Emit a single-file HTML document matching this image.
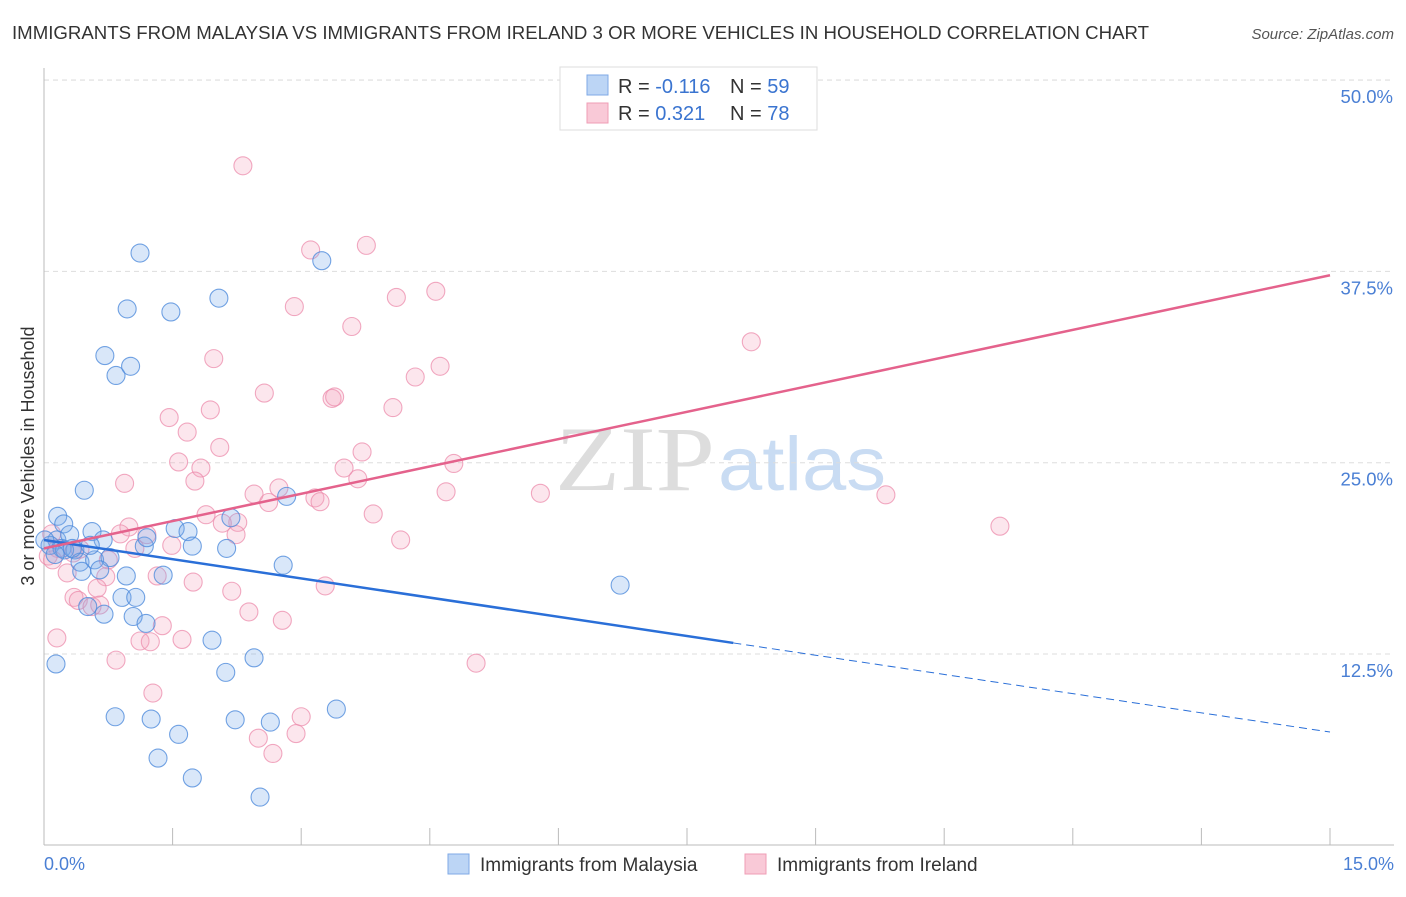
<!DOCTYPE html>
<html><head><meta charset="utf-8"><style>
body{margin:0;background:#fff;font-family:"Liberation Sans",sans-serif;}
svg text{font-family:"Liberation Sans",sans-serif;}
</style></head><body>
<svg id="chart" width="1406" height="892">
<text x="12" y="39" font-size="18" fill="#333" textLength="1137" lengthAdjust="spacingAndGlyphs">IMMIGRANTS FROM MALAYSIA VS IMMIGRANTS FROM IRELAND 3 OR MORE VEHICLES IN HOUSEHOLD CORRELATION CHART</text>
<text x="1394" y="39" font-size="15" fill="#555" font-style="italic" text-anchor="end">Source: ZipAtlas.com</text>
<text x="555" y="490" font-size="92" fill="#ddd" textLength="160" lengthAdjust="spacingAndGlyphs" style="font-family:'Liberation Serif',serif">ZIP</text>
<text x="718" y="490" font-size="76" fill="#c9dcf3" textLength="168" lengthAdjust="spacingAndGlyphs">atlas</text>
<g id="grid"></g><g id="axes"></g><g id="marks"></g><g id="lines"></g>
<text x="34" y="456" font-size="18" fill="#333" text-anchor="middle" transform="rotate(-90 34 456)">3 or more Vehicles in Household</text>
<text x="44" y="870" font-size="18" fill="#4a7fd4">0.0%</text>
<text x="1394" y="870" font-size="18" fill="#4a7fd4" text-anchor="end">15.0%</text>
<g>
<rect x="560" y="67" width="257" height="63" fill="#fff" stroke="#ddd"/>
<rect x="587" y="75" width="21" height="20" fill="#bcd5f5" stroke="#7fa9e6"/>
<rect x="587" y="103" width="21" height="20" fill="#f9c9d7" stroke="#ef9db6"/>
<text x="618" y="93" font-size="20" fill="#333">R = <tspan fill="#3a74d0">-0.116</tspan></text>
<text x="730" y="93" font-size="20" fill="#333">N = <tspan fill="#3a74d0">59</tspan></text>
<text x="618" y="120" font-size="20" fill="#333">R = <tspan fill="#3a74d0"> 0.321</tspan></text>
<text x="730" y="120" font-size="20" fill="#333">N = <tspan fill="#3a74d0">78</tspan></text>
</g>
<g>
<rect x="448" y="854" width="21" height="20" fill="#bcd5f5" stroke="#7fa9e6"/>
<text x="480" y="871" font-size="19" fill="#333">Immigrants from Malaysia</text></g>
<g>
<rect x="745" y="854" width="21" height="20" fill="#f9c9d7" stroke="#ef9db6"/>
<text x="777" y="871" font-size="19" fill="#333">Immigrants from Ireland</text></g>
</svg>
<script>
const yTicks=[12.5,25,37.5,50];
const yTickLabels=["12.5%","25.0%","37.5%","50.0%"];
const blueX=[0.16,0.23,0.15,0.07,0.21,0.30,0.36,0.42,0.44,0.56,0.59,0.69,0.77,0.96,0.91,1.07,0.51,0.70,1.04,1.19,0.47,0.71,0.84,1.01,0.97,1.12,1.48,2.04,3.24,1.53,1.68,1.73,2.18,2.13,1.17,1.20,1.39,2.79,2.83,1.96,2.45,2.12,0.14,0.83,1.25,1.57,1.33,1.73,2.23,2.64,3.41,2.52,6.72,0.24,0.01,0.13,0.33,0.54,0.65];
const blueY=[21.5,21.0,19.95,19.6,19.4,20.3,19.3,18.5,17.9,20.5,18.65,19.95,18.8,17.6,16.2,16.2,15.6,15.1,14.95,14.5,23.2,32.0,30.7,31.3,35.05,38.7,34.85,35.75,38.2,20.7,20.5,19.55,21.4,19.4,19.55,20.1,17.65,18.3,22.8,13.4,12.25,11.3,11.85,8.4,8.25,7.25,5.7,4.4,8.2,8.05,8.9,3.15,17.0,19.3,19.95,19.0,19.4,19.6,18.0];
const pinkX=[2.32,3.11,3.76,2.92,4.11,4.57,3.59,1.98,4.33,4.62,8.25,2.57,3.36,3.39,4.07,1.94,1.46,1.67,2.05,3.71,1.57,1.83,4.78,0.94,1.76,3.50,3.66,4.69,5.79,9.82,2.74,2.45,2.62,3.16,3.22,3.84,1.89,2.26,11.15,0.99,0.89,1.20,2.08,2.24,4.16,0.09,0.16,0.05,0.10,0.34,0.42,0.75,1.06,1.49,0.27,0.72,1.32,1.74,3.28,0.62,0.35,0.40,0.56,0.65,2.19,2.39,2.78,1.38,1.12,1.24,1.61,0.15,0.84,5.04,1.27,3.00,2.94,2.50,2.67];
const pinkY=[44.4,38.9,39.2,35.2,35.8,36.2,33.9,31.8,30.6,31.3,32.9,29.55,29.2,29.3,28.6,28.45,27.95,27.0,26.0,25.7,25.05,24.65,24.95,23.65,23.8,24.65,23.95,23.1,23.0,22.9,23.35,22.95,22.4,22.7,22.45,21.65,21.6,21.1,20.85,20.8,20.35,20.3,21.05,20.3,19.95,20.35,19.4,18.9,18.65,19.1,19.35,18.65,19.4,19.6,17.8,17.55,17.6,17.2,16.95,16.8,16.2,16.0,15.6,15.7,16.6,15.25,14.7,14.35,13.35,13.3,13.45,13.55,12.1,11.9,9.95,8.4,7.3,7.0,6.0];
const blueTrend=[19.95,7.4];
const blueSolidEnd=8.04;
const pinkTrend=[19.4,37.25];
const NS='http://www.w3.org/2000/svg';
const sx=v=>44+v*(1286/15);
const sy=v=>845.3-v*(191.3/12.5);
function mk(tag,attrs,parent){const e=document.createElementNS(NS,tag);for(const k in attrs)e.setAttribute(k,attrs[k]);parent.appendChild(e);return e;}
const grid=document.getElementById('grid'),axes=document.getElementById('axes'),marks=document.getElementById('marks'),lines=document.getElementById('lines');
yTicks.forEach((t,i)=>{
 const l=mk('line',{x1:44,x2:1394,y1:sy(t),y2:sy(t),stroke:'#ddd','stroke-dasharray':'5,4'},grid);
 
 
 const tx=mk('text',{x:1393,y:sy(t)+23,'font-size':18.5,fill:'#4a7fd4','text-anchor':'end'},grid);
 tx.textContent=yTickLabels[i];
 
 
});
mk('line',{x1:44,x2:1394,y1:80,y2:80,stroke:'#ddd','stroke-dasharray':'5,4'},grid);
const ax=mk('line',{x1:44,x2:1394,y1:845,y2:845,stroke:'#bbb'},axes);


const ay=mk('line',{x1:44,x2:44,y1:68,y2:845,stroke:'#bbb'},axes);


for(let i=1;i<=10;i++){const t=mk('line',{x1:sx(i*1.5),x2:sx(i*1.5),y1:828,y2:845,stroke:'#bbb'},axes);
 
 }
pinkX.forEach((x,i)=>{const c=mk('circle',{cx:sx(x),cy:sy(pinkY[i]),r:9,fill:'rgba(245,165,192,0.28)',stroke:'rgba(236,140,172,0.75)','stroke-width':1.1},marks);
 
 });
blueX.forEach((x,i)=>{const c=mk('circle',{cx:sx(x),cy:sy(blueY[i]),r:9,fill:'rgba(120,170,232,0.28)',stroke:'rgba(80,140,220,0.8)','stroke-width':1.1},marks);
 
 });
const bAt=x=>blueTrend[0]+(blueTrend[1]-blueTrend[0])*x/15;
const b1=mk('line',{x1:sx(0),y1:sy(bAt(0)),x2:sx(blueSolidEnd),y2:sy(bAt(blueSolidEnd)),stroke:'#2a6fd8','stroke-width':2.5},lines);


const b2=mk('line',{x1:sx(blueSolidEnd),y1:sy(bAt(blueSolidEnd)),x2:sx(15),y2:sy(bAt(15)),stroke:'#2a6fd8','stroke-width':1,'stroke-dasharray':'8,5'},lines);


const p1=mk('line',{x1:sx(0),y1:sy(pinkTrend[0]),x2:sx(15),y2:sy(pinkTrend[1]),stroke:'#e4628c','stroke-width':2.5},lines);


</script>
</body></html>
